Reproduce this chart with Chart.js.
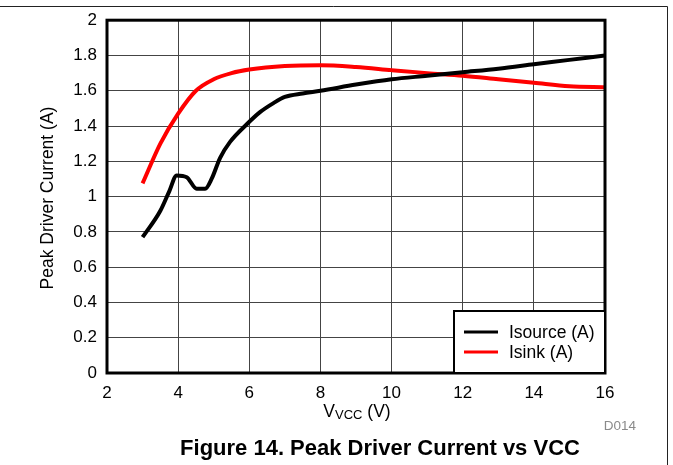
<!DOCTYPE html>
<html lang="en">
<head>
  <meta charset="UTF-8">
  <title>Peak Driver Current vs VCC</title>
  <script src="https://cdn.jsdelivr.net/npm/chart.js"></script>
  <style>
    html, body {
      margin: 0;
      padding: 0;
      background: #fff;
    }
    #wrap {
      position: relative;
      width: 673px;
      height: 465px;
    }
  </style>
</head>
<body>
  <div id="wrap">
    <canvas id="chart" width="673" height="465"></canvas>
  </div>

  <script>
    // values
    const isourceV = [3, 3.5, 3.75, 3.96, 4.24, 4.52, 4.76, 4.94, 5.18, 5.46, 5.93, 6.31, 6.68, 7.0, 7.5, 8, 9, 10, 11, 12, 13, 14, 15, 16];
    const isourceA = [0.77, 0.92, 1.03, 1.12, 1.11, 1.045, 1.045, 1.10, 1.22, 1.31, 1.41, 1.48, 1.53, 1.565, 1.585, 1.60, 1.635, 1.665, 1.685, 1.705, 1.725, 1.75, 1.775, 1.80];

    const isinkV = [3, 3.5, 4, 4.5, 5, 5.5, 6, 7, 8, 9, 10, 11, 12, 13, 14, 15, 16];
    const isinkA = [1.075, 1.30, 1.47, 1.60, 1.665, 1.70, 1.72, 1.74, 1.745, 1.735, 1.717, 1.70, 1.685, 1.665, 1.645, 1.625, 1.62];

    const xTicks = [2, 4, 6, 8, 10, 12, 14, 16];
    const yTicks = [0, 0.2, 0.4, 0.6, 0.8, 1, 1.2, 1.4, 1.6, 1.8, 2];

    const seriesNames = ['Isource (A)', 'Isink (A)'];
    const seriesColors = ['#000000', '#ff0000'];

    const FONT = '"Liberation Sans", Arial, sans-serif';

    function toPoints(xs, ys) {
      return xs.map((x, i) => ({ x: x, y: ys[i] }));
    }

    // extra drawing: plot frame, legend box, titles, page frame
    const extras = {
      id: 'extras',
      afterDraw(chart) {
        const ctx = chart.ctx;
        const a = chart.chartArea;
        ctx.save();

        // page frame (top and right)
        ctx.strokeStyle = '#222';
        ctx.lineWidth = 1;
        ctx.beginPath();
        ctx.moveTo(0, 6.5);
        ctx.lineTo(667.5, 6.5);
        ctx.lineTo(667.5, 465);
        ctx.stroke();

        // plot border
        ctx.strokeStyle = '#000';
        ctx.lineWidth = 3;
        ctx.strokeRect(a.left, a.top, a.right - a.left, a.bottom - a.top);

        // legend box
        const lx = 454, ly = 311, lw = a.right - lx, lh = a.bottom - ly;
        ctx.fillStyle = '#fff';
        ctx.fillRect(lx, ly, lw, lh);
        ctx.lineWidth = 2;
        ctx.strokeRect(lx, ly, lw, lh);
        ctx.font = '17.5px ' + FONT;
        ctx.textBaseline = 'middle';
        ctx.textAlign = 'left';
        seriesNames.forEach((name, i) => {
          const yy = 332 + i * 20;
          ctx.strokeStyle = seriesColors[i];
          ctx.lineWidth = 3;
          ctx.beginPath();
          ctx.moveTo(464, yy);
          ctx.lineTo(498, yy);
          ctx.stroke();
          ctx.fillStyle = '#000';
          ctx.fillText(name, 509, yy + 1);
        });

        // y axis title
        ctx.save();
        ctx.translate(53, 198);
        ctx.rotate(-Math.PI / 2);
        ctx.textAlign = 'center';
        ctx.textBaseline = 'alphabetic';
        ctx.fillStyle = '#000';
        ctx.font = '17.5px ' + FONT;
        ctx.fillText('Peak Driver Current (A)', 0, 0);
        ctx.restore();

        // x axis title with subscript
        ctx.fillStyle = '#000';
        ctx.textAlign = 'left';
        ctx.textBaseline = 'alphabetic';
        const big = '17.5px ' + FONT, small = '13px ' + FONT;
        ctx.font = big;
        const w1 = ctx.measureText('V').width;
        const w3 = ctx.measureText(' (V)').width;
        ctx.font = small;
        const w2 = ctx.measureText('VCC').width;
        let tx = 357 - (w1 + w2 + w3) / 2;
        const base = 417;
        ctx.font = big;
        ctx.fillText('V', tx, base);
        tx += w1;
        ctx.font = small;
        ctx.fillText('VCC', tx, base + 2);
        tx += w2;
        ctx.font = big;
        ctx.fillText(' (V)', tx, base);

        // figure id
        ctx.fillStyle = '#8a8a8a';
        ctx.font = '13.5px ' + FONT;
        ctx.textAlign = 'right';
        ctx.fillText('D014', 636, 430);

        // caption
        ctx.fillStyle = '#000';
        ctx.font = 'bold 22px ' + FONT;
        ctx.textAlign = 'center';
        ctx.fillText('Figure 14. Peak Driver Current vs VCC', 380, 455);

        ctx.restore();
      }
    };

    new Chart(document.getElementById('chart'), {
      type: 'line',
      data: {
        datasets: [
          {
            label: seriesNames[0],
            data: toPoints(isourceV, isourceA),
            borderColor: seriesColors[0],
            borderWidth: 4,
            pointRadius: 0,
            cubicInterpolationMode: 'monotone',
            fill: false
          },
          {
            label: seriesNames[1],
            data: toPoints(isinkV, isinkA),
            borderColor: seriesColors[1],
            borderWidth: 4,
            pointRadius: 0,
            cubicInterpolationMode: 'monotone',
            fill: false
          }
        ]
      },
      options: {
        responsive: false,
        animation: false,
        layout: { padding: { left: 0, right: 68, top: 20, bottom: 0 } },
        plugins: {
          legend: { display: false },
          tooltip: { enabled: false }
        },
        scales: {
          x: {
            type: 'linear',
            min: 2,
            max: 16,
            afterBuildTicks(scale) {
              scale.ticks = xTicks.map(v => ({ value: v }));
            },
            afterFit(scale) { scale.height = 92; },
            grid: { color: '#444', lineWidth: 1, drawTicks: false },
            border: { display: false },
            ticks: {
              color: '#000',
              padding: 10,
              maxRotation: 0,
              font: { family: FONT, size: 17 }
            }
          },
          y: {
            type: 'linear',
            min: 0,
            max: 2,
            afterBuildTicks(scale) {
              scale.ticks = yTicks.map(v => ({ value: v }));
            },
            afterFit(scale) { scale.width = 107; },
            grid: { color: '#444', lineWidth: 1, drawTicks: false },
            border: { display: false },
            ticks: {
              color: '#000',
              padding: 10,
              font: { family: FONT, size: 17 },
              callback: v => String(Math.round(v * 10) / 10)
            }
          }
        }
      },
      plugins: [extras]
    });
  </script>
</body>
</html>
